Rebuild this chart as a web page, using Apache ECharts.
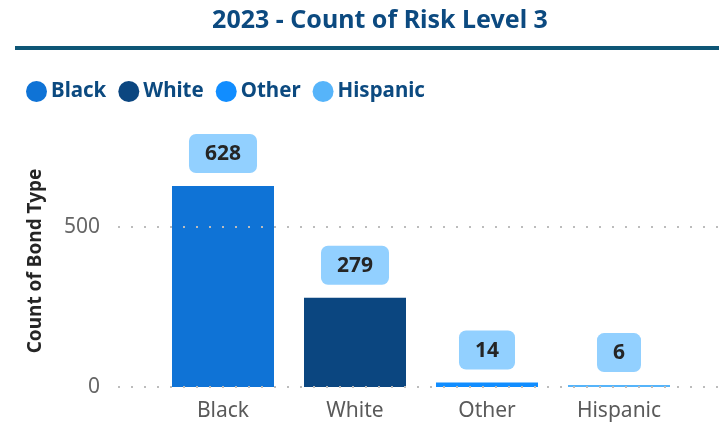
<!DOCTYPE html>
<html>
<head>
<meta charset="utf-8">
<style>
  html, body { margin: 0; padding: 0; background: #ffffff; }
  #chart { width: 719px; height: 425px; }
</style>
<script src="https://cdn.jsdelivr.net/npm/echarts@6/dist/echarts.min.js"></script>
</head>
<body>
<div id="chart"></div>
<script>
// Risk level 3 counts for 2023, grouped by race
const categories = ['Black', 'White', 'Other', 'Hispanic'];
const counts = [628, 279, 14, 6];
const barColors = ['#0F73D6', '#0B4680', '#118DFF', '#56B4FA'];
const yTicks = [0, 500];

const FONT = '"Noto Sans", "Open Sans", sans-serif';

const chart = echarts.init(document.getElementById('chart'), null, { renderer: 'canvas' });

// One bar series per category so each gets its own legend entry
const barSeries = categories.map((name, i) => ({
  name: name,
  type: 'bar',
  xAxisIndex: 1,
  yAxisIndex: 1,
  stack: 'all',
  barWidth: 102,
  itemStyle: { color: barColors[i] },
  data: categories.map((c, j) => (j === i ? counts[i] : '-')),
  label: {
    show: true,
    position: 'top',
    distance: 13,
    formatter: p => p.value,
    backgroundColor: '#92D0FF',
    borderRadius: 7,
    padding: [7, 16, 6, 16],
    color: '#252525',
    fontFamily: FONT,
    fontWeight: 'bold',
    fontSize: 21,
    lineHeight: 26
  }
}));

// Dotted reference lines spanning the full plot width
const gridLineSeries = {
  type: 'line',
  xAxisIndex: 0,
  yAxisIndex: 0,
  data: [],
  silent: true,
  markLine: {
    silent: true,
    symbol: 'none',
    label: { show: false },
    lineStyle: { color: '#bcbcbc', type: [2, 11], width: 2 },
    data: yTicks.map(v => ({ yAxis: v }))
  }
};

chart.setOption({
  animation: false,
  title: {
    text: '2023 - Count of Risk Level 3',
    left: 375,
    top: 3,
    textAlign: 'center',
    textStyle: {
      fontFamily: FONT,
      fontWeight: 'bold',
      fontSize: 25,
      color: '#0C4A80'
    }
  },
  legend: {
    left: 21,
    top: 76,
    icon: 'circle',
    itemWidth: 21,
    itemHeight: 21,
    itemGap: 12,
    data: categories,
    textStyle: {
      fontFamily: FONT,
      fontWeight: 'bold',
      fontSize: 20.5,
      color: '#0C4A80',
      padding: [0, 0, 0, -1]
    }
  },
  graphic: [{
    type: 'rect',
    shape: { x: 15, y: 46, width: 704, height: 4 },
    style: { fill: '#0E5676' },
    silent: true
  }],
  grid: [
    { left: 118, right: 0, top: 147, bottom: 38 },
    { left: 157, right: 34, top: 147, bottom: 38 }
  ],
  xAxis: [
    { gridIndex: 0, type: 'value', min: 0, max: 1, show: false },
    {
      gridIndex: 1,
      type: 'category',
      data: categories,
      axisLine: { show: false },
      axisTick: { show: false },
      axisLabel: {
        margin: 14,
        fontFamily: FONT,
        fontSize: 21,
        color: '#5a5a5a'
      }
    }
  ],
  yAxis: [
    {
      gridIndex: 0,
      type: 'value',
      min: 0,
      max: 750,
      interval: 500,
      name: 'Count of Bond Type',
      nameLocation: 'middle',
      nameGap: 73,
      nameTextStyle: {
        fontFamily: FONT,
        fontWeight: 'bold',
        fontSize: 19,
        color: '#252525',
        padding: [0, 0, 0, 12]
      },
      axisLine: { show: false },
      axisTick: { show: false },
      splitLine: { show: false },
      axisLabel: {
        showMaxLabel: false,
        margin: 18,
        fontFamily: FONT,
        fontSize: 21,
        color: '#666666'
      }
    },
    {
      gridIndex: 1,
      type: 'value',
      min: 0,
      max: 750,
      interval: 500,
      show: false,
      splitLine: { show: false }
    }
  ],
  series: [gridLineSeries].concat(barSeries)
});
</script>
</body>
</html>
